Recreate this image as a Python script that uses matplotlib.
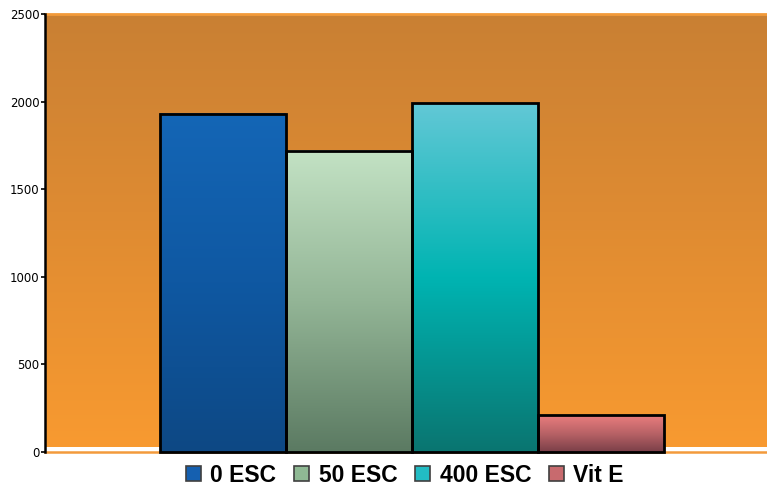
import numpy as np
import matplotlib
matplotlib.use('Agg')
import matplotlib.pyplot as plt
from matplotlib.colors import LinearSegmentedColormap
from matplotlib.patches import Patch

labels = ['0 ESC', '50 ESC', '400 ESC', 'Vit E']
values = [1930, 1720, 1990, 210]
yticks = [0, 500, 1000, 1500, 2000, 2500]

# gradient stops per bar, bottom -> top
bar_grads = [
    ['#0d4884', '#0f58a2', '#1466b6'],
    ['#5b7a62', '#93b596', '#c3e2c4'],
    ['#0a7570', '#00b4b2', '#62c8d6'],
    ['#7a3f48', '#b86266', '#ea7d7e'],
]
legend_cols = ['#1560b0', '#8fb994', '#22bcc4', '#c86a6e']

fig = plt.figure(figsize=(7.67, 4.93), dpi=100)
ax = fig.add_axes([45/767, 41/493, 1 - 45/767, 438/493])

x0, x1 = -1.417, 4.32
ax.set_xlim(x0, x1)
ax.set_ylim(0, 2500)

# orange backdrop, darker at the top
bg = LinearSegmentedColormap.from_list('bg', ['#f89a30', '#e08c32', '#c98034'])
grad = np.linspace(0, 1, 256).reshape(-1, 1)
ax.imshow(grad, extent=[x0, x1, 30, 2500], origin='lower', aspect='auto',
          cmap=bg, zorder=0)
ax.axhline(0, color='#f39a3c', lw=1.8, zorder=1, clip_on=False)
ax.axhline(2500, color='#f29a3a', lw=2, zorder=1, clip_on=False)

w = 1.0
for i, (v, stops) in enumerate(zip(values, bar_grads)):
    cm = LinearSegmentedColormap.from_list('b%d' % i, stops)
    ax.imshow(grad, extent=[i - w/2, i + w/2, 0, v], origin='lower',
              aspect='auto', cmap=cm, zorder=2)
ax.bar(range(len(values)), values, width=w, fill=False, edgecolor='black',
       linewidth=2, zorder=3, clip_on=False)

for s in ['top', 'right', 'bottom']:
    ax.spines[s].set_visible(False)
ax.spines['left'].set_linewidth(1.8)
ax.spines['left'].set_zorder(4)
ax.set_xticks([])
ax.set_yticks(yticks)
ax.tick_params(axis='y', length=3, width=1.2, pad=1, labelsize=8.5)

handles = [Patch(facecolor=c, edgecolor='#404040', linewidth=1.2) for c in legend_cols]
fig.legend(handles, labels, loc='center', bbox_to_anchor=(405/767, 1 - 475/493),
           ncol=4, frameon=False, handlelength=0.65, handleheight=0.65,
           handletextpad=0.4, columnspacing=0.8,
           prop={'family': 'Liberation Sans', 'weight': 'bold', 'size': 16.5})

fig.savefig('out.png', dpi=100)
